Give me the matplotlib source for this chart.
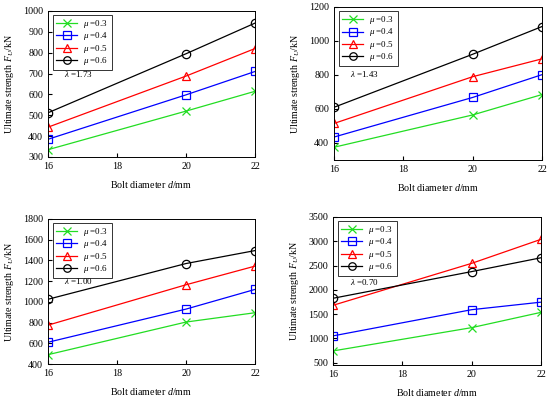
import matplotlib
matplotlib.use("Agg")
import matplotlib.pyplot as plt

plt.rcParams['font.family'] = ['Liberation Serif', 'DejaVu Serif']
plt.rcParams['mathtext.fontset'] = 'custom'
plt.rcParams['mathtext.it'] = 'Liberation Serif:italic'
plt.rcParams['mathtext.rm'] = 'Liberation Serif'

diameters = [16, 20, 22]
mu_labels = ['0.3', '0.4', '0.5', '0.6']

# lambda = 1.73
p1 = [[335, 520, 615], [385, 598, 710], [443, 688, 820], [512, 795, 942]]
# lambda = 1.43
p2 = [[375, 565, 685], [435, 668, 802], [515, 790, 895], [610, 922, 1085]]
# lambda = 1.00
p3 = [[490, 805, 895], [610, 930, 1120], [775, 1165, 1345], [1025, 1370, 1495]]
# lambda = 0.70
p4 = [[740, 1220, 1535], [1050, 1590, 1745], [1680, 2545, 3040], [1825, 2375, 2660]]

lambdas = ['1.73', '1.43', '1.00', '0.70']
yticks = [list(range(300, 1001, 100)), list(range(400, 1201, 200)),
          list(range(400, 1801, 200)), list(range(500, 3501, 500))]
ylims = [(300, 1000), (300, 1200), (400, 1800), (450, 3500)]
xticks = [16, 18, 20, 22]

colors = ['#22dd22', '#0000ff', '#ff0000', '#000000']
markers = ['x', 's', '^', 'o']

W, H = 550, 398
fig = plt.figure(figsize=(W / 100, H / 100), dpi=100)

# pixel boxes: left, top, right, bottom
boxes = [(48, 11, 255, 157), (334, 7, 542, 160), (48, 219, 255, 364), (333, 217, 541, 365)]
lam_pos = [(0.075, 0.57), (0.075, 0.565), (0.075, 0.57), (0.08, 0.56)]
datasets = [p1, p2, p3, p4]

for i, (data, box) in enumerate(zip(datasets, boxes)):
    l, t, r, b = box
    ax = fig.add_axes([l / W, 1 - b / H, (r - l) / W, (b - t) / H])
    for j, series in enumerate(data):
        ax.plot(diameters, series, color=colors[j], marker=markers[j],
                markersize=6, markerfacecolor='none', markeredgewidth=0.9,
                linewidth=0.9, label=r'$\mu$ =' + mu_labels[j])
    ax.set_xlim(16, 22)
    ax.set_ylim(*ylims[i])
    ax.set_xticks(xticks)
    ax.set_yticks(yticks[i])
    ax.tick_params(direction='in', labelsize=7.2, length=3, pad=3.5, top=False, right=False)
    ax.set_xlabel(r'Bolt diameter $d$/mm', fontsize=7.2, labelpad=6)
    ax.set_ylabel(r'Ultimate strength $F_U$/kN', fontsize=7.2, labelpad=5)
    ax.text(lam_pos[i][0], lam_pos[i][1], r'$\lambda$ =' + lambdas[i],
            transform=ax.transAxes, fontsize=6.5, va='center', ha='left')
    leg = ax.legend(loc='upper left', fontsize=6.5, frameon=True, fancybox=False,
                    edgecolor='black', handlelength=2.3, borderpad=0.35,
                    labelspacing=0.05, handleheight=0.5, markerscale=0.9,
                    handletextpad=0.7, borderaxespad=0.0,
                    bbox_to_anchor=(0.025, 0.975))
    leg.get_frame().set_linewidth(0.7)
    for s in ax.spines.values():
        s.set_linewidth(0.7)

fig.savefig('out.png', dpi=100)
